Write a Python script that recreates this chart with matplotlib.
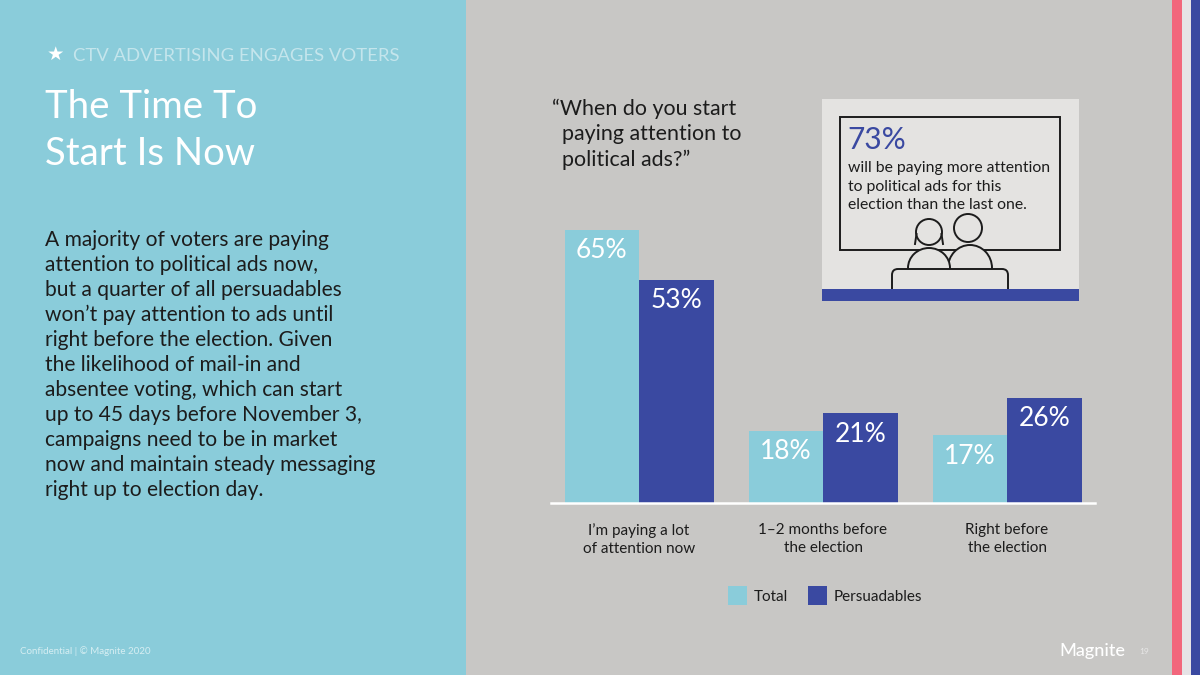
import matplotlib
matplotlib.use("Agg")
import matplotlib.pyplot as plt
from matplotlib.patches import Rectangle, Circle, Ellipse, FancyBboxPatch
import numpy as np

categories = ["I’m paying a lot\nof attention now", "1–2 months before\nthe election", "Right before\nthe election"]
# bar heights as drawn in the picture, and the labels printed on them
total = [65, 17, 16]
persuadables = [53, 21.2, 24.9]
total_labels = ["65%", "18%", "17%"]
persuadables_labels = ["53%", "21%", "26%"]
series_names = ["Total", "Persuadables"]

LIGHT = "#8accda"
BLUE = "#3a49a1"
GREY = "#c8c7c5"
PANEL = "#e4e3e1"
INK = "#1c1c1c"
plt.rcParams["font.family"] = ["Lato", "DejaVu Sans"]

fig = plt.figure(figsize=(12, 6.75), dpi=100, facecolor=GREY)

# pixel-coordinate background layer
bg = fig.add_axes([0, 0, 1, 1], zorder=0)
bg.set_xlim(0, 1200); bg.set_ylim(675, 0); bg.axis("off")
bg.add_patch(Rectangle((0, 0), 466, 675, color=LIGHT, lw=0))
bg.add_patch(Rectangle((1172, 0), 10, 675, color="#f2667c", lw=0))
bg.add_patch(Rectangle((1182, 0), 9, 675, color="#e6e3e6", lw=0))
bg.add_patch(Rectangle((1191, 0), 9, 675, color=BLUE, lw=0))

# TV inset
bg.add_patch(Rectangle((822, 99), 257, 190, color=PANEL, lw=0))
bg.add_patch(Rectangle((840, 116.5), 220, 133, fc="none", ec=INK, lw=1.4))
lw = 1.4
# man, then woman in front of him
bg.add_patch(Ellipse((970, 268), 44, 46, fc=PANEL, ec=INK, lw=lw, zorder=2))
bg.add_patch(Circle((968, 228), 14, fc=PANEL, ec=INK, lw=lw, zorder=2))
bg.add_patch(Ellipse((929, 268), 42, 40, fc=PANEL, ec=INK, lw=lw, zorder=2.1))
bg.add_patch(Circle((929, 232), 13, fc=PANEL, ec=INK, lw=lw, zorder=2.1))
bg.plot([916.5, 915], [234, 244], color=INK, lw=lw, zorder=2.2)
bg.plot([941.5, 943], [234, 244], color=INK, lw=lw, zorder=2.2)
bg.add_patch(FancyBboxPatch((892, 269), 116, 26, boxstyle="round,pad=0,rounding_size=6",
                            fc=PANEL, ec=INK, lw=lw, zorder=3))
bg.add_patch(Rectangle((822, 289), 257, 12, color=BLUE, lw=0, zorder=4))

# chart
ax = fig.add_axes([551/1200, 1-502.5/675, (1095-551)/1200, 300/675], zorder=1)
ax.patch.set_alpha(0)
x = np.arange(len(categories))
w = 74.5/184
b1 = ax.bar(x - w/2, total, w, color=LIGHT, label=series_names[0])
b2 = ax.bar(x + w/2, persuadables, w, color=BLUE, label=series_names[1])
ax.set_xlim((551-639)/184, (1095-639)/184)
ax.set_ylim(0, 300/4.2)
ax.set_yticks([])
ax.set_xticks(x, categories, fontsize=11, color=INK, linespacing=1.42)
ax.tick_params(axis="x", length=0, pad=14.5)
for s in ["top", "left", "right"]:
    ax.spines[s].set_visible(False)
ax.spines["bottom"].set_color("white")
ax.spines["bottom"].set_linewidth(1.8)
for bars, labs in ((b1, total_labels), (b2, persuadables_labels)):
    for r, s in zip(bars, labs):
        ax.annotate(s, (r.get_x() + r.get_width()/2, r.get_height()), xytext=(0, -15),
                    textcoords="offset points", ha="center", va="center",
                    color="white", fontsize=19)
ax.legend(handles=[b1, b2], loc="center", bbox_to_anchor=((825-551)/544, (502-595)/300),
          ncol=2, frameon=False, fontsize=11, handlelength=1.24, handleheight=1.45,
          columnspacing=1.35, handletextpad=0.42, labelcolor=INK)

# text
def T(px, py, s, **k):
    k.setdefault("va", "center")
    return bg.text(px, py, s, **k)

T(47, 54, "★", color="white", fontsize=14, family="DejaVu Sans")
T(73, 56, "CTV ADVERTISING ENGAGES VOTERS", color="#c4e5ec", fontsize=13.3)
T(45, 107, "The Time To", color="white", fontsize=27.6)
T(45, 154, "Start Is Now", color="white", fontsize=27.6)
body = ["A majority of voters are paying", "attention to political ads now,",
        "but a quarter of all persuadables", "won’t pay attention to ads until",
        "right before the election. Given", "the likelihood of mail-in and",
        "absentee voting, which can start", "up to 45 days before November 3,",
        "campaigns need to be in market", "now and maintain steady messaging",
        "right up to election day."]
for i, line in enumerate(body):
    T(45, 240 + i*25, line, color=INK, fontsize=15.1)
T(552, 109, "“When do you start", color=INK, fontsize=15.4)
T(562, 134, "paying attention to", color=INK, fontsize=15.4)
T(562, 160, "political ads?”", color=INK, fontsize=15.4)
T(847, 140, "73%", color=BLUE, fontsize=21.5)
T(848, 168, "will be paying more attention", color=INK, fontsize=11.3)
T(848, 186.5, "to political ads for this", color=INK, fontsize=11.3)
T(848, 205, "election than the last one.", color=INK, fontsize=11.3)
T(20, 651, "Confidential | © Magnite 2020", color="#d6eef2", fontsize=7)
T(1059, 651, "Magnite", color="white", fontsize=13, fontweight="medium")
T(1139, 651, "19", color="#e8e8e8", fontsize=6)

fig.savefig("out.png", dpi=100, facecolor=GREY)
